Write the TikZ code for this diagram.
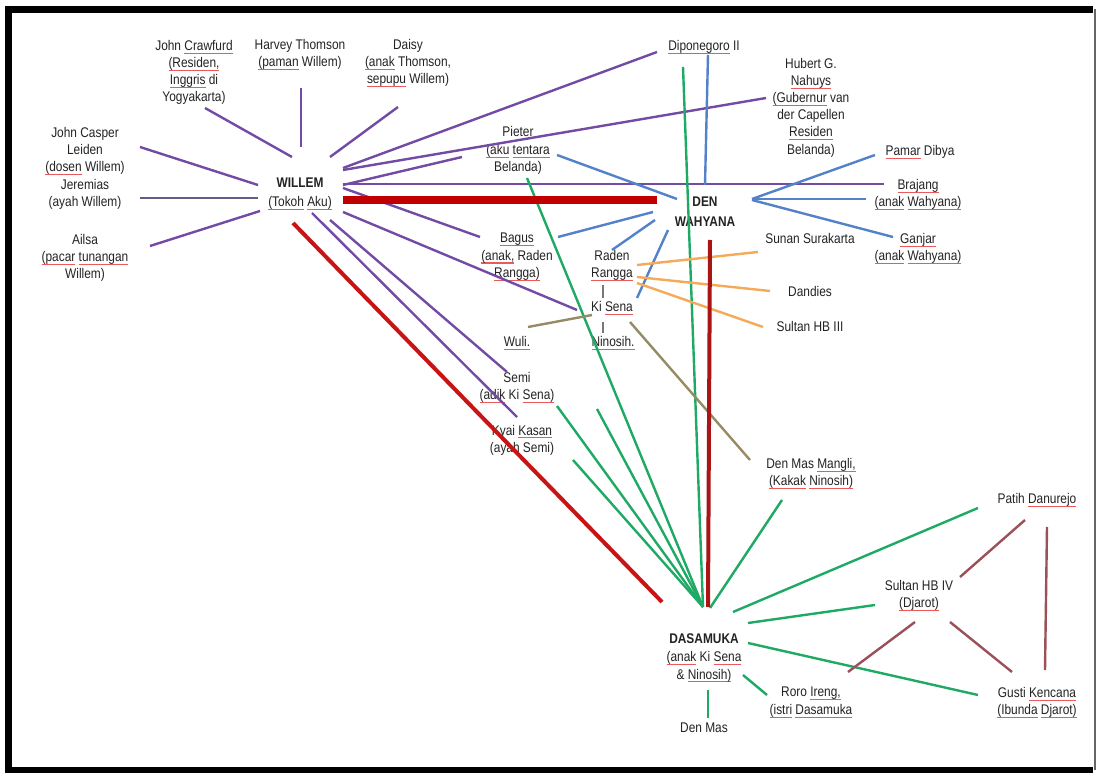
\documentclass[tikz,border=0pt]{standalone}
\usepackage{fontspec}
\setmainfont{Liberation Sans}[FakeStretch=0.85]
\usetikzlibrary{calc}
\definecolor{pur}{RGB}{115,75,165}
\definecolor{purg}{RGB}{100,92,130}
\definecolor{blu}{RGB}{84,130,200}
\definecolor{grn}{RGB}{30,170,100}
\definecolor{redk}{RGB}{192,0,0}
\definecolor{redd}{RGB}{200,20,20}
\definecolor{redv}{RGB}{170,20,20}
\definecolor{org}{RGB}{245,170,90}
\definecolor{olv}{RGB}{150,140,100}
\definecolor{brn}{RGB}{155,80,90}
\definecolor{gry}{RGB}{120,120,120}
\definecolor{txt}{RGB}{35,35,35}
\definecolor{spell}{RGB}{235,90,90}
\newcommand\sq[1]{\leavevmode\setbox0\hbox{#1}\rlap{\textcolor{spell}{\rule[-2.6pt]{\wd0}{0.8pt}}}\box0\relax}
\tikzset{
  lbl/.style={align=center, inner sep=0pt, font=\fontsize{10.5}{12.9}\selectfont, text=txt},
  edge/.style={line width=1.8pt},
  purline/.style={edge, draw=pur},
  jerline/.style={edge, draw=purg},
  bluline/.style={edge, draw=blu},
  grnline/.style={edge, draw=grn},
  orgline/.style={edge, draw=org},
  olvline/.style={edge, draw=olv},
  brnline/.style={edge, draw=brn},
  gryline/.style={line width=1.2pt, draw=gry},
  redthick/.style={line width=5.3pt, draw=redk},
  reddiag/.style={line width=3pt, draw=redd},
  redvert/.style={line width=3pt, draw=redv}
}
\begin{document}
\begin{tikzpicture}[x=0.75pt, y=-0.75pt]
\useasboundingbox (0,0) rectangle (1100,773);
\fill[white] (0,0) rectangle (1100,773);
\draw[line width=5pt, black] (1093,9.5) -- (8.5,9.5) -- (8.5,770) -- (1093,770);
\draw[line width=1pt, black!60] (1095,9.5) -- (1095,770);

% nodes
\node[lbl] (craw) at (194,72.5) {John \sq{Crawfurd}\\\sq{(Residen,}\\\sq{Inggris} di\\Yogyakarta)};
\node[lbl] (harvey) at (300,55) {Harvey Thomson\\\sq{(paman} Willem)};
\node[lbl] (daisy) at (408,63) {Daisy\\\sq{(anak} Thomson,\\\sq{sepupu} Willem)};
\node[lbl] (casper) at (85,151) {John Casper\\Leiden\\\sq{(dosen} Willem)};
\node[lbl] (jeremias) at (85,194) {Jeremias\\(ayah Willem)};
\node[lbl] (ailsa) at (85,258) {Ailsa\\\sq{(pacar} \sq{tunangan}\\Willem)};
\node[lbl] (willem) at (300,194) {\textbf{WILLEM}\\[1pt]\sq{(Tokoh} \sq{Aku)}};
\node[lbl] (dipo) at (704,47) {\sq{Diponegoro} II};
\node[lbl] (hubert) at (811,107.5) {Hubert G.\\\sq{Nahuys}\\\sq{(Gubernur} van\\der Capellen\\\sq{Residen}\\Belanda)};
\node[lbl] (pieter) at (518,150.5) {Pieter\\\sq{(aku} \sq{tentara}\\Belanda)};
\node[lbl] (denw) at (705,212) {\textbf{DEN}\\[2pt]\textbf{WAHYANA}};
\node[lbl] (pamar) at (920,152) {\sq{Pamar} Dibya};
\node[lbl] (brajang) at (918,195) {\sq{Brajang}\\\sq{(anak} \sq{Wahyana)}};
\node[lbl] (ganjar) at (918,248.5) {\sq{Ganjar}\\\sq{(anak} \sq{Wahyana)}};
\node[lbl] (bagus) at (517,257) {\sq{Bagus}\\\sq{(anak,} Raden\\\sq{Rangga)}};
\node[lbl] (rangga) at (612,266) {Raden\\\sq{Rangga}};
\node[lbl] (kisena) at (612,308) {Ki \sq{Sena}};
\node[lbl] (ninosih) at (613,343) {\sq{Ninosih.}};
\node[lbl] (wuli) at (517,343) {\sq{Wuli.}};
\node[lbl] (semi) at (517,387.5) {Semi\\\sq{(adik} Ki \sq{Sena)}};
\node[lbl] (kasan) at (522,440) {Kyai \sq{Kasan}\\(ayah Semi)};
\node[lbl] (sunan) at (810,238) {Sunan Surakarta};
\node[lbl] (dandies) at (810,291) {Dandies};
\node[lbl] (hb3) at (810,326) {Sultan HB III};
\node[lbl] (mangli) at (811,474) {Den Mas \sq{Mangli,}\\\sq{(Kakak} \sq{Ninosih)}};
\node[lbl] (patih) at (1037,500) {Patih \sq{Danurejo}};
\node[lbl] (hb4) at (919,596) {Sultan HB IV\\\sq{(Djarot)}};
\node[lbl] (dasamuka) at (704,658) {\textbf{DASAMUKA}\\[1pt]\sq{(anak} Ki \sq{Sena}\\\& \sq{Ninosih)}};
\node[lbl] (roro) at (811,702.5) {Roro \sq{Ireng,}\\\sq{(istri} \sq{Dasamuka}};
\node[lbl] (gusti) at (1037,702.5) {Gusti \sq{Kencana}\\\sq{(Ibunda} \sq{Djarot)}};
\node[lbl] (denmas) at (704,728) {Den Mas};
\coordinate (gfree) at (597,409);

% purple from Willem
\draw[purline] ($(willem)+(-8,-37)$) -- ($(craw)+(11,35.5)$);
\draw[purline] ($(willem)+(1,-47)$) -- ($(harvey)+(1,33)$);
\draw[purline] ($(willem)+(30,-37)$) -- ($(daisy)+(-10,44)$);
\draw[purline] ($(willem)+(-42,-9)$) -- ($(casper)+(55,-4)$);
\draw[jerline] ($(willem)+(-42,4)$) -- ($(jeremias)+(55,4)$);
\draw[purline] ($(willem)+(-40,17)$) -- ($(ailsa)+(65,-12)$);
\draw[purline] ($(willem)+(43,-26)$) -- ($(dipo)+(-47,5)$);
\draw[purline] ($(willem)+(43,-24)$) -- ($(hubert)+(-45,-9.5)$);
\draw[purline] ($(willem)+(43,-9)$) -- ($(pieter)+(-56,6.5)$);
\draw[purline] ($(willem)+(43,-10)$) -- ($(brajang)+(-34,-11)$);
\draw[purline] ($(willem)+(43,-6)$) -- ($(bagus)+(-37,-20)$);
\draw[purline] ($(willem)+(43,18)$) -- ($(kisena)+(-35,2)$);
\draw[purline] ($(willem)+(30,26)$) -- ($(semi)+(-10,-15.5)$);
\draw[purline] ($(willem)+(12,19)$) -- ($(kasan)+(-5,-23)$);

% blue
\draw[bluline] ($(dipo)+(4,8)$) -- ($(denw)+(0,-27)$);
\draw[bluline] ($(pieter)+(39,4.5)$) -- ($(denw)+(-28,-13)$);
\draw[bluline] ($(denw)+(47,-13)$) -- ($(pamar)+(-45,3)$);
\draw[bluline] ($(denw)+(47,-13)$) -- ($(brajang)+(-52,4)$);
\draw[bluline] ($(denw)+(47,-12)$) -- ($(ganjar)+(-25,-11.5)$);
\draw[bluline] ($(denw)+(-52,0)$) -- ($(bagus)+(41,-20)$);
\draw[bluline] ($(denw)+(-50,8)$) -- ($(rangga)+(0,-16)$);
\draw[bluline] ($(denw)+(-37,18)$) -- ($(kisena)+(25,-10)$);

% green to Dasamuka
\draw[grnline] ($(dipo)+(-21,20)$) -- ($(dasamuka)+(-1,-51)$);
\draw[grnline] ($(pieter)+(9,27.5)$) -- ($(dasamuka)+(-1,-51)$);
\draw[grnline] ($(semi)+(40,18.5)$) -- ($(dasamuka)+(-1,-51)$);
\draw[grnline] (gfree) -- ($(dasamuka)+(-1,-51)$);
\draw[grnline] ($(kasan)+(51,20)$) -- ($(dasamuka)+(-1,-51)$);
\draw[grnline] ($(mangli)+(-29,26)$) -- ($(dasamuka)+(6,-50)$);
\draw[grnline] ($(patih)+(-59,8)$) -- ($(dasamuka)+(29,-46)$);
\draw[grnline] ($(hb4)+(-44,9)$) -- ($(dasamuka)+(44,-35)$);
\draw[grnline] ($(gusti)+(-59,-7.5)$) -- ($(dasamuka)+(44,-15)$);
\draw[grnline] ($(roro)+(-44,-7.5)$) -- ($(dasamuka)+(39,17)$);
\draw[grnline] ($(denmas)+(4,-10)$) -- ($(dasamuka)+(4,32)$);

% gray
\draw[gryline] ($(rangga)+(-9,19)$) -- ($(kisena)+(-9,-10)$);
\draw[gryline] ($(kisena)+(-9,14)$) -- ($(ninosih)+(-10,-10)$);

% olive
\draw[olvline] ($(wuli)+(11,-16)$) -- ($(kisena)+(-20,7)$);
\draw[olvline] ($(kisena)+(18,14)$) -- ($(mangli)+(-61,-14)$);

% orange
\draw[orgline] ($(rangga)+(25,-1)$) -- ($(sunan)+(-52,14)$);
\draw[orgline] ($(rangga)+(25,11)$) -- ($(dandies)+(-40,0)$);
\draw[orgline] ($(rangga)+(25,17)$) -- ($(hb3)+(-47,1)$);

% brown
\draw[brnline] ($(patih)+(-12,20)$) -- ($(hb4)+(41,-19)$);
\draw[brnline] ($(patih)+(10,27)$) -- ($(gusti)+(8,-32.5)$);
\draw[brnline] ($(hb4)+(-4,26)$) -- ($(roro)+(37,-30.5)$);
\draw[brnline] ($(hb4)+(31,26)$) -- ($(gusti)+(-25,-30.5)$);

% red
\draw[redthick] ($(willem)+(43,6)$) -- ($(denw)+(-48,-12)$);
\draw[reddiag] ($(willem)+(-7,29)$) -- ($(dasamuka)+(-42,-56)$);
\draw[redvert] ($(denw)+(5,28)$) -- ($(dasamuka)+(4,-51)$);
\end{tikzpicture}
\end{document}
